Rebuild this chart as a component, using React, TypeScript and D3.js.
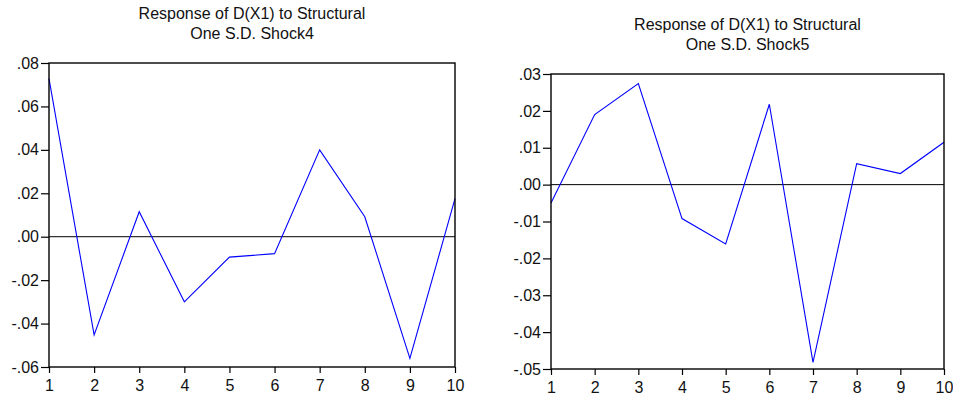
import React, { useEffect, useRef } from 'react';
import * as d3 from 'd3';

// periods on the x axis
const periods = [1, 2, 3, 4, 5, 6, 7, 8, 9, 10];

// response of D(X1) to shock 4
const shock4 = [0.0728, -0.0452, 0.0115, -0.0300, -0.0094, -0.0078, 0.0400, 0.0092, -0.0560, 0.0175];

// response of D(X1) to shock 5
const shock5 = [-0.0050, 0.0190, 0.0274, -0.0092, -0.0161, 0.0218, -0.0482, 0.0057, 0.0030, 0.0115];

const yTicks4 = [0.08, 0.06, 0.04, 0.02, 0.0, -0.02, -0.04, -0.06];
const yTicks5 = [0.03, 0.02, 0.01, 0.0, -0.01, -0.02, -0.03, -0.04, -0.05];

const titles = [
    ['Response of D(X1) to Structural', 'One S.D. Shock4'],
    ['Response of D(X1) to Structural', 'One S.D. Shock5'],
];

// eviews style: ".02", "-.04"
const fmt = (v: number) => {
    const s = Math.abs(v).toFixed(2).replace('0.', '.');
    return v < -1e-9 ? '-' + s : s;
};

export default function App() {
    const ref = useRef<SVGSVGElement>(null);

    useEffect(() => {
        const svg = d3.select(ref.current);
        svg.selectAll('*').remove();

        const panels = [
            { values: shock4, ticks: yTicks4, title: titles[0], left: 49, right: 455, top: 63, bottom: 367, titleY: 19 },
            { values: shock5, ticks: yTicks5, title: titles[1], left: 551, right: 944, top: 74, bottom: 369, titleY: 30 },
        ];

        panels.forEach((p) => {
            const x = d3.scaleLinear()
                .domain([1, 10])
                .range([p.left, p.right]);
            const y = d3.scaleLinear()
                .domain([d3.min(p.ticks) as number, d3.max(p.ticks) as number])
                .range([p.bottom, p.top]);

            const g = svg.append('g');

            // title, two lines
            p.title.forEach((t, i) => {
                g.append('text')
                    .attr('x', (p.left + p.right) / 2)
                    .attr('y', p.titleY + i * 20)
                    .attr('text-anchor', 'middle')
                    .style('font-size', '16px')
                    .attr('fill', '#111')
                    .text(t);
            });

            // zero line
            g.append('line')
                .attr('x1', p.left)
                .attr('x2', p.right)
                .attr('y1', y(0))
                .attr('y2', y(0))
                .attr('stroke', 'black')
                .attr('stroke-width', 1);

            const line = d3.line<number>()
                .x((d, i) => x(periods[i]))
                .y((d) => y(d));

            g.append('path')
                .datum(p.values)
                .attr('d', line)
                .attr('fill', 'none')
                .attr('stroke', '#0000ff')
                .attr('stroke-width', 1.1);

            // frame
            g.append('rect')
                .attr('x', p.left)
                .attr('y', p.top)
                .attr('width', p.right - p.left)
                .attr('height', p.bottom - p.top)
                .attr('fill', 'none')
                .attr('stroke', 'black')
                .attr('stroke-width', 1.4);

            const yAxis = g.append('g')
                .attr('transform', `translate(${p.left},0)`)
                .call(d3.axisLeft(y).tickValues(p.ticks).tickFormat((d) => fmt(+d)).tickSize(8).tickPadding(2));
            const xAxis = g.append('g')
                .attr('transform', `translate(0,${p.bottom})`)
                .call(d3.axisBottom(x).tickValues(periods).tickFormat(d3.format('d')).tickSize(6).tickPadding(7));

            [yAxis, xAxis].forEach((a) => {
                a.select('.domain').remove();
                a.attr('font-size', 16).attr('font-family', null);
                a.selectAll('text').style('font-size', '16px').attr('fill', '#111');
                a.selectAll('line').attr('stroke', 'black').attr('stroke-width', 1.2);
            });
        });
    }, []);

    return (
        <svg
            ref={ref}
            width={953}
            height={396}
            style={{ position: 'absolute', left: 0, top: 0, background: 'white', fontFamily: 'Arial, "Liberation Sans", sans-serif' }}
        />
    );
}
